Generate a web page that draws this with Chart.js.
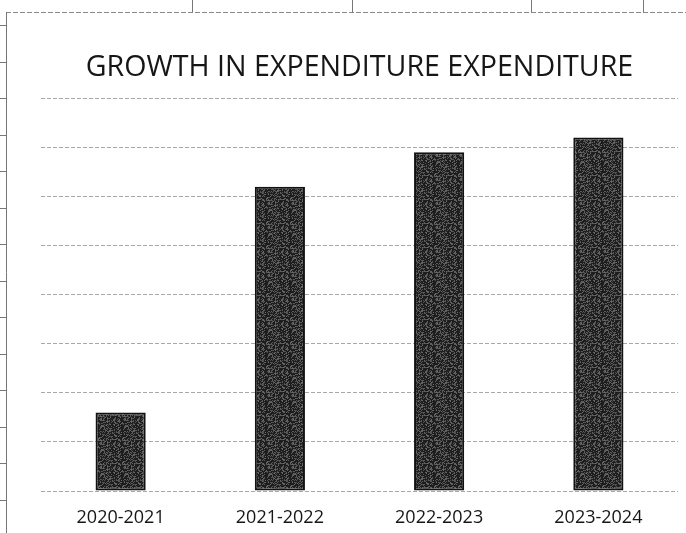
<!DOCTYPE html>
<html>
<head>
<meta charset="utf-8">
<script src="https://cdn.jsdelivr.net/npm/chart.js@4"></script>
<style>
  html, body { margin: 0; padding: 0; background: #fff; }
  #wrap { width: 686px; height: 533px; position: relative; }
</style>
</head>
<body>
<div id="wrap"><canvas id="expChart" width="686" height="533"></canvas></div>
<script>
// data
const years = ["2020-2021", "2021-2022", "2022-2023", "2023-2024"];
const expenditure = [16, 62, 69, 72];
const chartTitle = "GROWTH IN EXPENDITURE EXPENDITURE";

// grainy dark fill for the bars
const makeGrain = () => {
  const c = document.createElement("canvas");
  c.width = 24; c.height = 24;
  const g = c.getContext("2d");
  g.fillStyle = "#1e1e1e";
  g.fillRect(0, 0, 24, 24);
  for (let y = 0; y < 24; y++) {
    for (let x = 0; x < 24; x++) {
      const h = Math.abs(Math.sin(x * 12.9898 + y * 78.233) * 43758.5453) % 1;
      if (h > 0.55) {
        const v = Math.round(45 + h * 60);
        g.fillStyle = `rgb(${v},${v},${v})`;
        g.fillRect(x, y, 1, 1);
      }
    }
  }
  return g.createPattern(c, "repeat");
};

// the sheet border around the chart
const sheetFrame = {
  id: "sheetFrame",
  beforeDraw(chart) {
    const ctx = chart.ctx;
    ctx.save();
    ctx.strokeStyle = "#8a8a8a";
    ctx.lineWidth = 1;
    ctx.setLineDash([5, 2]);
    ctx.beginPath();
    ctx.moveTo(6, 12.5); ctx.lineTo(686, 12.5);
    ctx.stroke();
    ctx.setLineDash([]);
    ctx.strokeStyle = "#777";
    ctx.beginPath();
    ctx.moveTo(6.5, 12); ctx.lineTo(6.5, 533);
    for (let y = 25; y < 533; y += 36.5) {
      ctx.moveTo(0, Math.round(y) + 0.5); ctx.lineTo(6, Math.round(y) + 0.5);
    }
    [192, 352, 531, 643].forEach((x) => {
      ctx.moveTo(x + 0.5, 0); ctx.lineTo(x + 0.5, 12);
    });
    ctx.stroke();
    ctx.restore();
  },
};

const ctx = document.getElementById("expChart").getContext("2d");

new Chart(ctx, {
  type: "bar",
  data: {
    labels: years,
    datasets: [
      {
        data: expenditure,
        backgroundColor: makeGrain(),
        borderColor: "#121212",
        borderWidth: 2,
        borderSkipped: false,
        categoryPercentage: 1,
        barPercentage: 0.315,
      },
    ],
  },
  options: {
    responsive: false,
    animation: false,
    layout: { padding: { left: 41, right: 8, top: 0, bottom: 4 } },
    plugins: {
      legend: { display: false },
      tooltip: { enabled: false },
      title: {
        display: true,
        text: chartTitle,
        color: "#161616",
        font: { family: "'Open Sans', sans-serif", size: 28.6, weight: "normal", lineHeight: 1.2 },
        padding: { top: 51, bottom: 13 },
      },
    },
    scales: {
      x: {
        grid: { display: false },
        border: { display: false },
        afterFit(scale) { scale.height = 38; },
        ticks: {
          color: "#161616",
          padding: 8,
          font: { family: "'Open Sans', sans-serif", size: 18 },
        },
      },
      y: {
        min: 0,
        max: 80,
        ticks: { display: false, stepSize: 10 },
        grid: {
          color: "#a8a8a8",
          lineWidth: 1,
          drawTicks: false,
        },
        border: { display: false, dash: [4, 2] },
      },
    },
  },
  plugins: [sheetFrame],
});
</script>
</body>
</html>
